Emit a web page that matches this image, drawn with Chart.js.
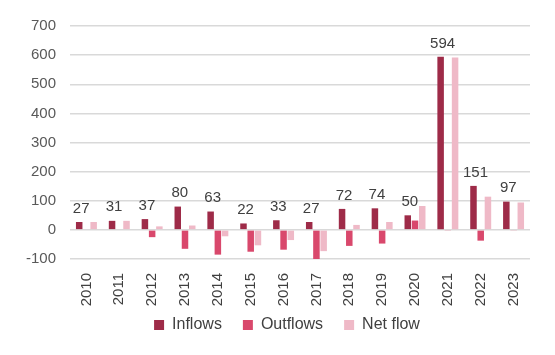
<!DOCTYPE html>
<html>
<head>
<meta charset="utf-8">
<script src="https://cdn.jsdelivr.net/npm/chart.js@4"></script>
<style>
html,body{margin:0;padding:0;background:#fff;}
#wrap{width:555px;height:355px;position:relative;}
</style>
</head>
<body>
<div id="wrap"><canvas id="c" width="555" height="355"></canvas></div>
<script>
const years = ['2010','2011','2012','2013','2014','2015','2016','2017','2018','2019','2020','2021','2022','2023'];
const inflows = [27,31,37,80,63,22,33,27,72,74,50,594,151,97];
const outflows = [0,0,-25,-65,-85,-75,-68,-100,-55,-47,32,-2,-37,-3];
const netFlow = [27,31,12,15,-22,-53,-35,-73,17,27,82,592,114,94];
const yTicks = {min:-100, max:700, step:100};

const labelPlugin = {
  id:'inflowLabels',
  afterDatasetsDraw(chart){
    const ctx = chart.ctx;
    const meta = chart.getDatasetMeta(0);
    ctx.save();
    ctx.font = '15px "Liberation Sans", Arial, sans-serif';
    ctx.fillStyle = '#404040';
    ctx.textAlign = 'center';
    ctx.textBaseline = 'bottom';
    meta.data.forEach((bar,i)=>{
      ctx.fillText(String(inflows[i]), bar.x + 2, bar.y - 6);
    });
    ctx.restore();
  }
};
const legendShift = {
  id:'legendShift',
  afterLayout(chart){
    const l = chart.legend;
    if (l) { l.top -= 15; l.bottom -= 15; l.left += 22; l.right += 22; }
  }
};

Chart.defaults.font.family = '"Liberation Sans", Arial, sans-serif';
new Chart(document.getElementById('c'), {
  type:'bar',
  data:{
    labels: years,
    datasets:[
      {label:'Inflows', data:inflows, backgroundColor:'#9e2b48'},
      {label:'Outflows', data:outflows, backgroundColor:'#d9486c'},
      {label:'Net flow', data:netFlow, backgroundColor:'#efb9c7'}
    ]
  },
  options:{
    responsive:false,
    animation:false,
    devicePixelRatio:1,
    layout:{padding:{top:26,right:25,left:0,bottom:0}},
    datasets:{bar:{categoryPercentage:0.66, barPercentage:0.9}},
    plugins:{
      tooltip:{enabled:false},
      legend:{
        position:'bottom',
        maxHeight:44,
        labels:{boxWidth:10, boxHeight:10, color:'#404040', font:{size:16}, padding:21}
      }
    },
    scales:{
      x:{
        grid:{display:false},
        border:{display:false},
        ticks:{color:'#404040', font:{size:15}, minRotation:90, maxRotation:90, padding:6},
        afterFit(s){ s.height = 52; }
      },
      y:{
        min:yTicks.min, max:yTicks.max,
        grid:{color:'#d9d9d9', lineWidth:1.5, drawTicks:false},
        border:{display:false},
        ticks:{stepSize:yTicks.step, color:'#595959', font:{size:15}, padding:14},
        afterFit(s){ s.width = 70; }
      }
    }
  },
  plugins:[labelPlugin, legendShift]
});
</script>
</body>
</html>
